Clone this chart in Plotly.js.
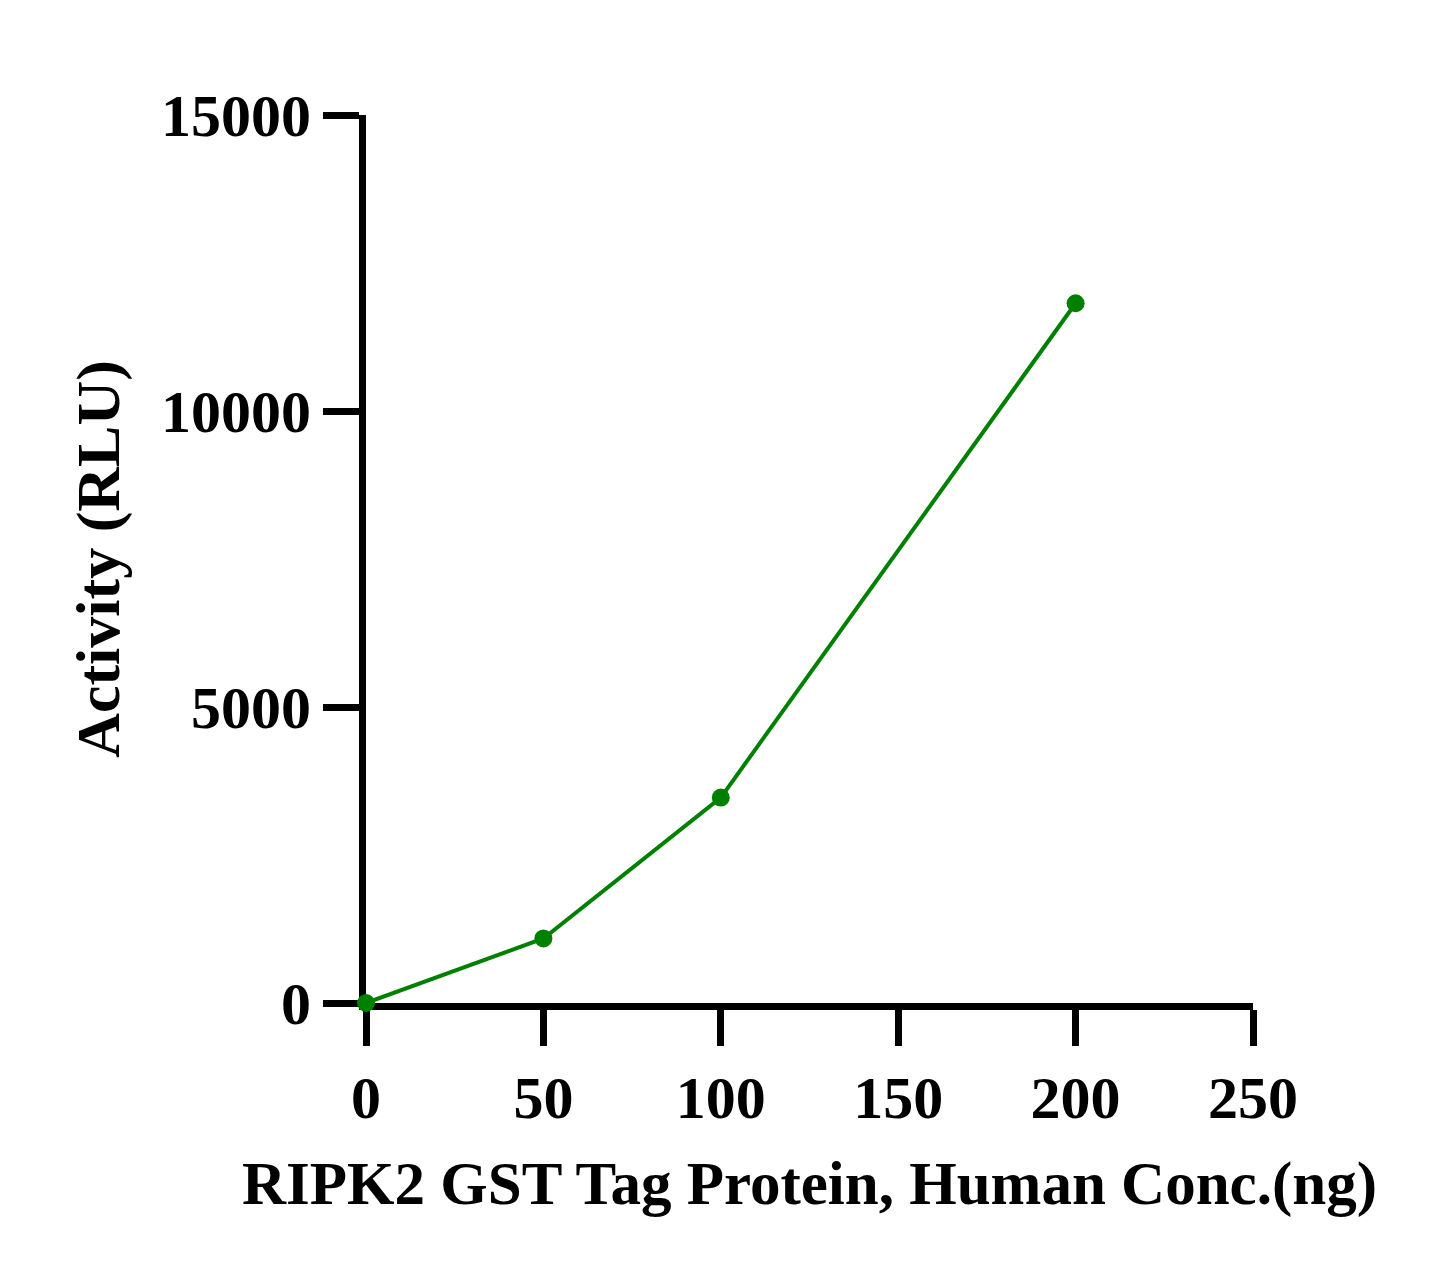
<!DOCTYPE html>
<html>
<head>
<meta charset="utf-8">
<script src="https://cdn.plot.ly/plotly-3.0.1.min.js"></script>
<style>html,body{margin:0;padding:0;background:#fff;}#chart{width:1445px;height:1281px;}</style>
</head>
<body>
<div id="chart"></div>
<script>
const concNg = [0, 50, 100, 200];
const activityRLU = [0, 1090, 3470, 11820];
const xTicks = [0, 50, 100, 150, 200, 250];
const yTicks = [0, 5000, 10000, 15000];
const xTitle = "RIPK2 GST Tag Protein, Human Conc.(ng)";
const yTitle = "Activity (RLU)";

const font = "Liberation Serif, Times New Roman, serif";

Plotly.newPlot('chart', [{
  x: concNg,
  y: activityRLU,
  type: 'scatter',
  mode: 'lines+markers',
  line: {color: '#008000', width: 4},
  marker: {color: '#008000', size: 18},
  cliponaxis: false,
  showlegend: false
}], {
  width: 1445,
  height: 1281,
  paper_bgcolor: '#fff',
  plot_bgcolor: '#fff',
  margin: {l: 366, r: 192, t: 115, b: 278},
  font: {family: font, color: '#000'},
  xaxis: {
    range: [0, 250],
    tickvals: xTicks,
    ticktext: xTicks.map(String),
    showgrid: false,
    zeroline: false,
    showline: true,
    layer: 'below traces',
    linecolor: '#000',
    linewidth: 7,
    ticks: 'outside',
    ticklen: 36,
    tickwidth: 7,
    tickcolor: '#000',
    tickfont: {family: font, size: 60, weight: 'bold', color: '#000'},
    title: {text: '<b>' + xTitle + '</b>', font: {family: font, size: 61, color: '#000'}, standoff: 34}
  },
  yaxis: {
    range: [0, 15000],
    tickvals: yTicks,
    ticktext: yTicks.map(String),
    showgrid: false,
    zeroline: false,
    showline: true,
    layer: 'below traces',
    linecolor: '#000',
    linewidth: 7,
    ticks: 'outside',
    ticklen: 36,
    tickwidth: 7,
    tickcolor: '#000',
    tickfont: {family: font, size: 60, weight: 'bold', color: '#000'},
    title: {text: '<b>' + yTitle + '</b>', font: {family: font, size: 62, color: '#000'}, standoff: 24}
  }
}, {displayModeBar: false, staticPlot: true});
</script>
</body>
</html>
